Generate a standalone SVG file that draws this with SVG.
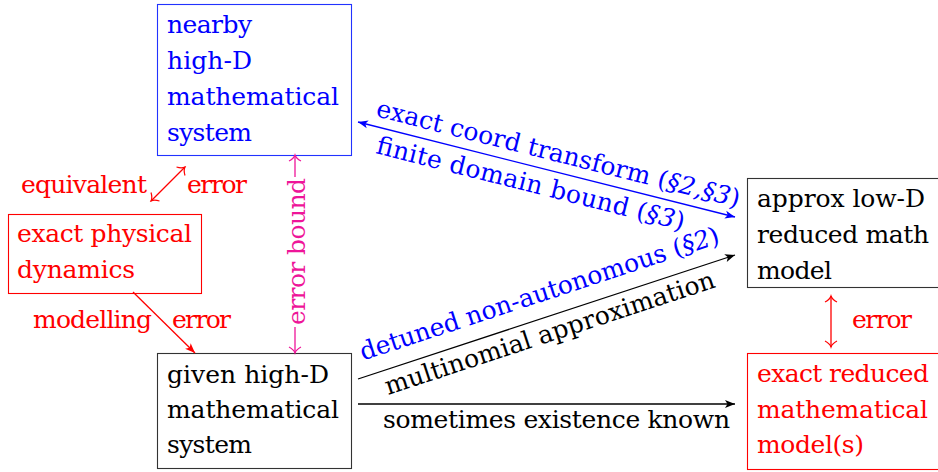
<svg xmlns="http://www.w3.org/2000/svg" width="938" height="472" viewBox="0 0 938 472" font-family="'DejaVu Serif', 'Liberation Serif', serif">
<style>
text{font-family:'DejaVu Serif','Liberation Serif',serif;font-size:25px}
.box{fill:none;stroke-width:1.1}
.k{fill:#000}.b{fill:#0000ff}.r{fill:#ff0000}.p{fill:#ee1599}
.bk{stroke:#333}.bb{stroke:#2233ff}.br{stroke:#ff0000}
.ln{fill:none;stroke-width:1.3}
.i{font-style:italic}
</style>
<defs>
<marker id="fb" viewBox="-12 -6 14 12" markerWidth="14" markerHeight="12" refX="0" refY="0" orient="auto-start-reverse" markerUnits="userSpaceOnUse"><path d="M0,0 L-10,-4 L-7.5,0 L-10,4 z" fill="#0000ff"/></marker>
<marker id="fk" viewBox="-12 -6 14 12" markerWidth="14" markerHeight="12" refX="0" refY="0" orient="auto-start-reverse" markerUnits="userSpaceOnUse"><path d="M0,0 L-10,-4 L-7.5,0 L-10,4 z" fill="#000"/></marker>
<marker id="fr" viewBox="-12 -6 14 12" markerWidth="14" markerHeight="12" refX="0" refY="0" orient="auto-start-reverse" markerUnits="userSpaceOnUse"><path d="M0,0 L-10,-4 L-7.5,0 L-10,4 z" fill="#ff0000"/></marker>
<marker id="or" viewBox="-9 -8 11 16" markerWidth="11" markerHeight="16" refX="0" refY="0" orient="auto-start-reverse" markerUnits="userSpaceOnUse"><path d="M-6,-6 C-4,-2.2 -1.5,-0.5 0,0 C-1.5,0.5 -4,2.2 -6,6" fill="none" stroke="#ff0000" stroke-width="1.2"/></marker>
<marker id="op" viewBox="-9 -8 11 16" markerWidth="11" markerHeight="16" refX="0" refY="0" orient="auto-start-reverse" markerUnits="userSpaceOnUse"><path d="M-6,-6 C-4,-2.2 -1.5,-0.5 0,0 C-1.5,0.5 -4,2.2 -6,6" fill="none" stroke="#ee1599" stroke-width="1.2"/></marker>
</defs>

<g id="nearby">
<rect class="box bb" x="157.5" y="4.5" width="194" height="151"/>
<text class="b" x="167" y="33" textLength="85">nearby</text>
<text class="b" x="167" y="69" textLength="85">high-D</text>
<text class="b" x="167" y="105" textLength="172">mathematical</text>
<text class="b" x="167" y="141" textLength="85">system</text>
</g>

<g id="physical">
<rect class="box br" x="8.5" y="214.5" width="193" height="79"/>
<text class="r" x="17" y="242" textLength="175">exact physical</text>
<text class="r" x="17" y="278" textLength="118">dynamics</text>
</g>

<g id="given">
<rect class="box bk" x="157.5" y="353.5" width="194" height="115"/>
<text class="k" x="167" y="383" textLength="162">given high-D</text>
<text class="k" x="167" y="418" textLength="172">mathematical</text>
<text class="k" x="167" y="453" textLength="85">system</text>
</g>

<g id="approx">
<rect class="box bk" x="747.5" y="178.5" width="192" height="109"/>
<text class="k" x="757" y="207" textLength="168">approx low-D</text>
<text class="k" x="757" y="243" textLength="172">reduced math</text>
<text class="k" x="757" y="279" textLength="75">model</text>
</g>

<g id="exactreduced">
<rect class="box br" x="747.5" y="353.5" width="192" height="116"/>
<text class="r" x="757" y="382" textLength="172">exact reduced</text>
<text class="r" x="757" y="418" textLength="171">mathematical</text>
<text class="r" x="757" y="453" textLength="107">model(s)</text>
</g>

<g id="connectors">
<line class="ln" stroke="#0000ff" x1="358" y1="122" x2="735" y2="217" marker-start="url(#fb)" marker-end="url(#fb)"/>
<line class="ln" stroke="#000" x1="358" y1="379" x2="735" y2="255" marker-end="url(#fk)"/>
<line class="ln" stroke="#000" x1="358" y1="404" x2="735" y2="404" marker-end="url(#fk)"/>
<line class="ln" stroke="#ee1599" x1="295" y1="155" x2="295" y2="353" marker-start="url(#op)" marker-end="url(#op)"/>
<rect x="283" y="177" width="24" height="150" fill="#fff"/>
<line class="ln" stroke="#ff0000" x1="151" y1="201" x2="185" y2="167" marker-start="url(#or)" marker-end="url(#or)"/>
<line class="ln" stroke="#ff0000" x1="133" y1="292" x2="195" y2="353" marker-end="url(#fr)"/>
<line class="ln" stroke="#ff0000" x1="831" y1="296" x2="831" y2="347" marker-start="url(#or)" marker-end="url(#or)"/>

<text class="b" transform="translate(375,116) rotate(14.14)" textLength="374">exact coord transform (<tspan class="i">§2,§3</tspan>)</text>
<text class="b" transform="translate(375,153) rotate(14.14)" textLength="317">finite domain bound (<tspan class="i">§3</tspan>)</text>
<text class="b" transform="translate(363,360.5) rotate(-18.21)" textLength="377">detuned non-autonomous (<tspan class="i">§2</tspan>)</text>
<text class="k" transform="translate(388,395) rotate(-18.21)" textLength="346">multinomial approximation</text>
<text class="k" x="383" y="428" textLength="347">sometimes existence known</text>
<text class="p" transform="translate(305,325) rotate(-90)" textLength="147">error bound</text>
<text class="r" x="21" y="193" textLength="126">equivalent</text>
<text class="r" x="187" y="193" textLength="60">error</text>
<text class="r" x="33" y="328" textLength="119">modelling</text>
<text class="r" x="172" y="328" textLength="59">error</text>
<text class="r" x="852" y="328" textLength="60">error</text>
</g>
</svg>
